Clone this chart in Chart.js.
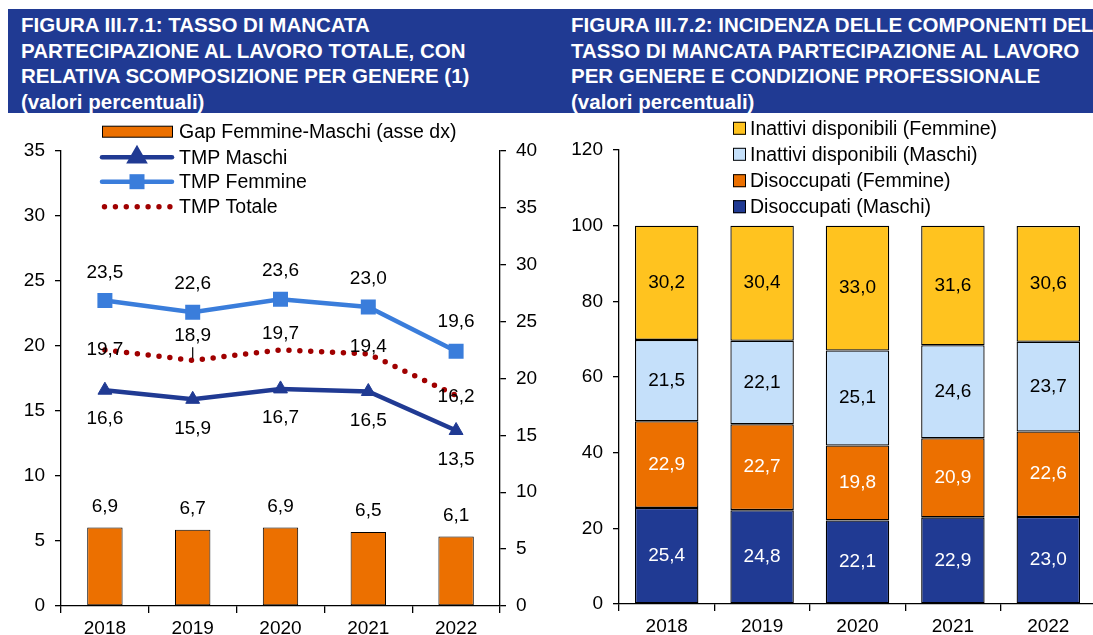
<!DOCTYPE html>
<html>
<head>
<meta charset="utf-8">
<script src="https://cdn.jsdelivr.net/npm/chart.js@4.4.1/dist/chart.umd.min.js"></script>
<style>
  html, body { margin: 0; padding: 0; background: #fff; width: 1093px; height: 635px; overflow: hidden; }
  body { position: relative; }
  .band { position: absolute; left: 8px; top: 9px; width: 1085px; height: 104px; background: #203a93; }
  .title { position: absolute; top: 12px; color: #fff; font-family: "Liberation Sans", Arial, sans-serif;
           font-weight: bold; font-size: 20.5px; line-height: 25.5px; white-space: nowrap; }
  canvas { position: absolute; top: 113px; }
</style>
</head>
<body>
<div class="band"></div>
<div class="title" style="left:21px">FIGURA III.7.1: TASSO DI MANCATA<br>PARTECIPAZIONE AL LAVORO TOTALE, CON<br>RELATIVA SCOMPOSIZIONE PER GENERE (1)<br>(valori percentuali)</div>
<div class="title" style="left:571px">FIGURA III.7.2: INCIDENZA DELLE COMPONENTI DEL<br>TASSO DI MANCATA PARTECIPAZIONE AL LAVORO<br>PER GENERE E CONDIZIONE PROFESSIONALE<br>(valori percentuali)</div>
<canvas id="left" width="550" height="535" style="left:0"></canvas>
<canvas id="right" width="546" height="535" style="left:550px"></canvas>
<script>
// dati
const years = ["2018", "2019", "2020", "2021", "2022"];
const gapFM = [6.9, 6.7, 6.9, 6.5, 6.1];
const tmpMaschi = [16.6, 15.9, 16.7, 16.5, 13.5];
const tmpFemmine = [23.5, 22.6, 23.6, 23.0, 19.6];
const tmpTotale = [19.7, 18.9, 19.7, 19.4, 16.2];

const disocMaschi = [25.4, 24.8, 22.1, 22.9, 23.0];
const disocFemmine = [22.9, 22.7, 19.8, 20.9, 22.6];
const inattMaschi = [21.5, 22.1, 25.1, 24.6, 23.7];
const inattFemmine = [30.2, 30.4, 33.0, 31.6, 30.6];

const leftTicks = [0, 5, 10, 15, 20, 25, 30, 35];
const rightTicks = [0, 5, 10, 15, 20, 25, 30, 35, 40];
const stackTicks = [0, 20, 40, 60, 80, 100, 120];

const FAMILY = "'Liberation Sans', Arial, sans-serif";
const FSIZE = 19;
const LEG_FONT = "19.5px " + FAMILY;
const BLUE_DARK = "#203a93";
const BLUE_LIGHT = "#3a7ddb";
const ORANGE = "#ec7000";
const RED_DOT = "#a00000";
const YELLOW = "#ffc31f";
const SKY = "#c5e0fa";

Chart.defaults.font.family = FAMILY;
Chart.defaults.font.size = FSIZE;
Chart.defaults.color = "#000";

const fmt = v => v.toFixed(1).replace(".", ",");

const valueLabels = {
    id: "valueLabels",
    afterDatasetsDraw(chart) {
        const ctx = chart.ctx;
        ctx.save();
        ctx.font = FSIZE + "px " + FAMILY;
        ctx.textAlign = "center";
        ctx.textBaseline = "middle";
        chart.data.datasets.forEach((ds, i) => {
            const meta = chart.getDatasetMeta(i);
            meta.data.forEach((el, j) => {
                let y;
                if (ds.labelCenter) {
                    y = (el.y + el.base) / 2;
                } else {
                    y = el.y + ds.labelOffset[j];
                }
                ctx.fillStyle = ds.labelColor;
                ctx.fillText(fmt(ds.data[j]), el.x, y);
                if (ds.leader && ds.leader[j]) {
                    ctx.strokeStyle = "#000";
                    ctx.lineWidth = 1.2;
                    ctx.beginPath();
                    ctx.moveTo(el.x, y + 12);
                    ctx.lineTo(el.x, el.y - 2);
                    ctx.stroke();
                }
            });
        });
        ctx.restore();
    }
};

const leftLegend = {
    id: "leftLegend",
    afterDraw(chart) {
        const ctx = chart.ctx;
        const rows = [18.7, 44.3, 68.7, 93.7];
        const x0 = 102, x1 = 172, tx = 179;
        ctx.save();
        // barra
        ctx.fillStyle = ORANGE;
        ctx.fillRect(x0, rows[0] - 5.5, x1 - x0, 11);
        ctx.strokeStyle = "#000";
        ctx.lineWidth = 1;
        ctx.strokeRect(x0 + 0.5, rows[0] - 5.5, x1 - x0, 11);
        // maschi
        ctx.lineCap = "round";
        ctx.lineWidth = 4.5;
        ctx.strokeStyle = BLUE_DARK;
        ctx.beginPath(); ctx.moveTo(x0, rows[1]); ctx.lineTo(x1, rows[1]); ctx.stroke();
        Chart.helpers.drawPoint(ctx, { pointStyle: "triangle", radius: 8, borderWidth: 1, rotation: 0 }, (x0 + x1) / 2, rows[1]);
        ctx.fillStyle = BLUE_DARK;
        ctx.fill();
        // femmine
        ctx.strokeStyle = BLUE_LIGHT;
        ctx.beginPath(); ctx.moveTo(x0, rows[2]); ctx.lineTo(x1, rows[2]); ctx.stroke();
        ctx.fillStyle = BLUE_LIGHT;
        ctx.fillRect((x0 + x1) / 2 - 7.5, rows[2] - 7.5, 15, 15);
        // totale
        ctx.fillStyle = RED_DOT;
        for (let k = 0; k < 7; k++) {
            ctx.beginPath();
            ctx.arc(x0 + 2.5 + k * 10.9, rows[3], 2.7, 0, Math.PI * 2);
            ctx.fill();
        }
        ctx.fillStyle = "#000";
        ctx.font = LEG_FONT;
        ctx.textBaseline = "middle";
        ["Gap Femmine-Maschi (asse dx)", "TMP Maschi", "TMP Femmine", "TMP Totale"].forEach((t, k) => {
            ctx.fillText(t, tx, rows[k] + 1);
        });
        ctx.restore();
    }
};

const rightLegend = {
    id: "rightLegend",
    afterDraw(chart) {
        const ctx = chart.ctx;
        const rows = [15.3, 41.3, 67.7, 93.7];
        const items = chart.data.datasets.slice().reverse();
        ctx.save();
        ctx.font = LEG_FONT;
        ctx.textBaseline = "middle";
        items.forEach((ds, k) => {
            ctx.fillStyle = ds.backgroundColor;
            ctx.fillRect(183, rows[k] - 6.5, 13, 13);
            ctx.strokeStyle = "#000";
            ctx.lineWidth = 1;
            ctx.strokeRect(183.5, rows[k] - 6, 12, 12);
            ctx.fillStyle = "#000";
            ctx.fillText(ds.label, 200, rows[k] + 1);
        });
        ctx.restore();
    }
};

function yAxis(min, max, step, pos, w, ticks) {
    return {
        position: pos,
        min: min, max: max,
        afterBuildTicks: s => { s.ticks = ticks.map(v => ({ value: v })); },
        afterFit: s => { s.width = w; },
        border: { display: true, color: "#000", width: 1.3 },
        grid: { drawOnChartArea: false, drawTicks: true, tickLength: 6, color: "#000", lineWidth: 1.3 },
        ticks: { padding: 10, color: "#000", font: { size: FSIZE } }
    };
}

function xAxis(h) {
    return {
        afterFit: s => { s.height = h; },
        border: { display: true, color: "#000", width: 1.3 },
        grid: { offset: true, drawOnChartArea: false, drawTicks: true, tickLength: 7, color: "#000", lineWidth: 1.3 },
        ticks: { padding: 4, color: "#000", font: { size: FSIZE } }
    };
}

new Chart(document.getElementById("left").getContext("2d"), {
    type: "bar",
    data: {
        labels: years,
        datasets: [
            {
                type: "line", label: "TMP Femmine", data: tmpFemmine, yAxisID: "y", order: 1,
                borderColor: BLUE_LIGHT, backgroundColor: BLUE_LIGHT, borderWidth: 4.5,
                pointStyle: "rect", pointRadius: 10.6, pointBorderWidth: 0, pointHoverRadius: 10.6,
                labelOffset: [-28, -28, -28, -28, -29], labelColor: "#000"
            },
            {
                type: "line", label: "TMP Maschi", data: tmpMaschi, yAxisID: "y", order: 2,
                borderColor: BLUE_DARK, backgroundColor: BLUE_DARK, borderWidth: 4.5,
                pointStyle: "triangle", pointRadius: 8, pointBorderWidth: 1, pointHoverRadius: 8,
                labelOffset: [29, 29, 29, 29, 29], labelColor: "#000"
            },
            {
                type: "line", label: "TMP Totale", data: tmpTotale, yAxisID: "y", order: 3,
                borderColor: RED_DOT, borderWidth: 5.5, borderDash: [0, 10.9], borderCapStyle: "round",
                pointRadius: 0, pointHoverRadius: 0,
                labelOffset: [0, -25, -16, -7, 1], leader: [false, true, false, false, false], labelColor: "#000"
            },
            {
                label: "Gap Femmine-Maschi (asse dx)", data: gapFM, yAxisID: "y2", order: 4,
                backgroundColor: ORANGE, borderColor: "#000", borderWidth: 1, borderSkipped: false,
                categoryPercentage: 1, barPercentage: 0.403,
                labelOffset: [-21, -21, -21, -21, -21], labelColor: "#000"
            }
        ]
    },
    options: {
        responsive: false,
        animation: false,
        layout: { padding: { top: 38, left: 0, right: 0, bottom: 0 } },
        plugins: { legend: { display: false }, tooltip: { enabled: false } },
        scales: {
            x: xAxis(42),
            y: yAxis(0, 35, 5, "left", 61, leftTicks),
            y2: yAxis(0, 40, 5, "right", 50, rightTicks)
        }
    },
    plugins: [valueLabels, leftLegend]
});

new Chart(document.getElementById("right").getContext("2d"), {
    type: "bar",
    data: {
        labels: years,
        datasets: [
            { label: "Disoccupati (Maschi)", data: disocMaschi, backgroundColor: BLUE_DARK, labelColor: "#fff" },
            { label: "Disoccupati (Femmine)", data: disocFemmine, backgroundColor: ORANGE, labelColor: "#fff" },
            { label: "Inattivi disponibili (Maschi)", data: inattMaschi, backgroundColor: SKY, labelColor: "#000" },
            { label: "Inattivi disponibili (Femmine)", data: inattFemmine, backgroundColor: YELLOW, labelColor: "#000" }
        ].map(d => Object.assign(d, {
            borderColor: "#000", borderWidth: 1.3, borderSkipped: false,
            categoryPercentage: 1, barPercentage: 0.665, labelCenter: true
        }))
    },
    options: {
        responsive: false,
        animation: false,
        layout: { padding: { top: 37, left: 0, right: 0, bottom: 0 } },
        plugins: { legend: { display: false }, tooltip: { enabled: false } },
        scales: {
            x: Object.assign(xAxis(44), { stacked: true }),
            y: Object.assign(yAxis(0, 120, 20, "left", 69, stackTicks), { stacked: true })
        }
    },
    plugins: [valueLabels, rightLegend]
});
</script>
</body>
</html>
